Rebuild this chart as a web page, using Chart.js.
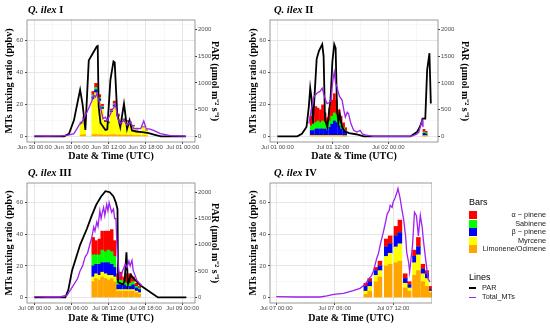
<!DOCTYPE html>
<html>
<head>
<meta charset="utf-8">
<script src="https://cdn.jsdelivr.net/npm/chart.js@4.4.1/dist/chart.umd.min.js"></script>
<style>
  body { margin: 0; background: #fff; }
  #fig { position: relative; width: 550px; height: 328px; overflow: hidden; background: #fff; }
  #fig canvas { position: absolute; }
  .ttl { position: absolute; font: bold 10.5px "Liberation Serif", "Times New Roman", serif; line-height: 14px; white-space: nowrap; color: #000; }
  .lgt { position: absolute; font: 9px "Liberation Sans", Arial, sans-serif; line-height: 12px; color: #000; }
  .lgl { position: absolute; font: 7.3px "Liberation Sans", Arial, sans-serif; line-height: 8px; color: #1a1a1a; white-space: nowrap; }
  .sw { position: absolute; width: 8px; height: 8px; }
  .lk { position: absolute; width: 7px; height: 1.5px; }
</style>
</head>
<body>
<div id="fig">
  <canvas id="p1" width="221" height="163" style="left:0px;top:0px"></canvas>
  <canvas id="p2" width="227" height="163" style="left:244px;top:0px"></canvas>
  <canvas id="p3" width="221" height="162" style="left:0px;top:163px"></canvas>
  <canvas id="p4" width="188" height="162" style="left:244px;top:163px"></canvas>
  <div class="ttl" style="left:28px;top:3px"><i>Q. ilex</i> I</div>
  <div class="ttl" style="left:274px;top:3px"><i>Q. ilex</i> II</div>
  <div class="ttl" style="left:28px;top:166px"><i>Q. ilex</i> III</div>
  <div class="ttl" style="left:274px;top:166px"><i>Q. ilex</i> IV</div>
  <div id="legend"></div>
</div>
<script>
// axis ticks shared by the panels
const yMajor = [0, 20, 40, 60];
const yMinor = [10, 30, 50, 70];
const parTicks = [0, 500, 1000, 1500, 2000];

// bar species, bottom of the stack first
const speciesNames = ["Limonene/Ocimene", "Myrcene", "β − pinene", "Sabinene", "α − pinene"];
const speciesColors = ["#ffa500", "#ffff00", "#0000ff", "#00ff00", "#ff0000"];

// ---- Q. ilex I  (hours from Jun 30 00:00) ----
const xMajorI = [0, 6, 12, 18, 24];
const xMinorI = [3, 9, 15, 21];
const xLabelsI = ["Jun 30 00:00", "Jun 30 06:00", "Jun 30 12:00", "Jun 30 18:00", "Jul 01 00:00"];
const parTimeI = [0, 4.8, 5.6, 6.4, 7.1, 7.4, 7.8, 8.25, 8.8, 9.3, 10.1, 10.25, 10.4, 10.7, 11.5, 11.8, 12.3, 12.8, 13.0, 13.4, 13.9, 14.5, 14.7, 15.0, 15.4, 15.8, 16.5, 17.5, 18.5, 19.5, 20.5, 24.5];
const parI = [0, 0, 50, 300, 700, 870, 600, 120, 1420, 1520, 1680, 1690, 560, 250, 120, 130, 1050, 1400, 1380, 430, 175, 610, 430, 140, 300, 110, 90, 80, 60, 30, 0, 0];
const mtTimeI = [0, 2, 4.2, 5.5, 6.4, 7.2, 7.6, 8.0, 8.5, 9.1, 9.4, 9.6, 9.9, 10.1, 10.4, 10.7, 11.1, 11.5, 11.8, 12.2, 12.6, 12.9, 13.1, 13.5, 13.9, 14.2, 14.5, 15.0, 15.5, 16.1, 16.6, 17.2, 17.7, 18.1, 18.7, 19.3, 20.4, 22.0, 24.5];
const mtI = [0.3, 0.2, 0.3, 0.8, 1.7, 6.9, 8.5, 11, 15, 20.4, 23, 25.6, 24.5, 26.7, 23, 18.3, 11, 12, 10, 13, 16.7, 18, 20.4, 11, 8, 9, 10, 7, 9, 4.8, 5, 4.8, 9.6, 4.8, 4.5, 3.75, 1.7, 0.5, 0.2];
const barTimeI = [7.62, 8.07, 9.52, 9.97, 10.52, 10.97, 11.52, 11.97, 12.52, 12.97, 13.52, 13.97, 14.52, 14.97, 15.52, 15.97, 16.52, 16.97, 17.62, 18.07];
const limI = [0.8, 1, 1, 1.2, 1, 1, 0.8, 0.8, 1, 1, 0.8, 0.8, 0.8, 0.8, 0.8, 0.6, 0.5, 0.5, 0.5, 0.4];
const myrI = [7, 9.5, 22, 26, 21, 16, 8, 7.2, 14, 17.5, 11.5, 7, 9, 8.2, 7.2, 5.6, 3, 2.2, 5, 3.2];
const bpinI = [0.4, 0.5, 1.5, 1.8, 1.2, 1, 0.4, 0.3, 0.6, 1, 0.6, 0.4, 0.4, 0.3, 0.3, 0.3, 0.2, 0.1, 0.2, 0.2];
const sabI = [0.3, 0.4, 1.5, 1.5, 1.2, 0.8, 0.3, 0.3, 0.6, 1, 0.4, 0.3, 0.3, 0.3, 0.3, 0.2, 0.1, 0.1, 0.1, 0.1];
const apinI = [0.5, 0.8, 2, 2.5, 1.6, 1.2, 0.5, 0.4, 0.8, 1.5, 0.7, 0.5, 0.5, 0.4, 0.4, 0.3, 0.2, 0.1, 0.2, 0.1];

// ---- Q. ilex II  (hours from Jul 01 00:00) ----
const xMajorII = [0, 12, 24];
const xMinorII = [6, 18, 30];
const xLabelsII = ["Jul 01 00:00", "Jul 01 12:00", "Jul 02 00:00"];
const parTimeII = [0, 4.3, 5.3, 6.3, 6.8, 7.1, 7.4, 7.7, 8.0, 8.5, 9.0, 9.7, 10.0, 10.3, 10.8, 11.5, 11.9, 12.3, 12.6, 12.9, 13.2, 13.5, 14.0, 14.5, 15.5, 17.0, 18.7, 28.8, 29.3, 30.2, 30.8, 31.1, 31.4, 32.0, 32.4, 32.9, 33.2];
const parII = [0, 0, 50, 175, 550, 900, 700, 245, 700, 1450, 1600, 1720, 1500, 320, 175, 700, 1400, 1720, 1650, 500, 250, 420, 175, 100, 60, 40, 0, 0, 30, 80, 175, 238, 330, 330, 1240, 1555, 615];
const mtTimeII = [6.8, 7.3, 7.9, 8.6, 9.2, 9.7, 10.2, 10.7, 11.2, 11.6, 12.0, 12.3, 12.6, 12.9, 13.2, 13.5, 14.0, 14.4, 14.7, 15.1, 15.4, 15.9, 16.5, 17.2, 17.9, 18.4, 19.0, 20.8, 24, 28.8, 29.5, 30.2, 30.6, 30.9, 31.3, 31.5];
const mtII = [8, 16, 24.6, 27, 28, 30, 24.6, 20.5, 21, 22.6, 35, 40, 33, 31, 27, 24.6, 22.6, 16, 12, 15, 14, 8, 3.8, 2.7, 3.8, 1.5, 1, 0, 0, 0, 0.6, 1.5, 2.7, 5.8, 10, 5.8];
const barTimeII = [7.32, 7.77, 8.32, 8.77, 9.32, 9.77, 10.32, 10.77, 11.32, 11.77, 12.32, 12.77, 13.32, 13.77, 14.32, 14.77, 31.72, 32.17];
const limII = [0.3, 0.3, 0.3, 0.3, 0.3, 0.3, 0.3, 0.3, 0.3, 0.3, 0.3, 0.3, 0.3, 0.3, 0.2, 0.2, 0.2, 0.2];
const myrII = [0.3, 0.3, 0.3, 0.3, 0.3, 0.3, 0.3, 0.3, 0.3, 0.3, 0.3, 0.3, 0.3, 0.3, 0.2, 0.2, 0.2, 0.2];
const bpinII = [3, 3, 4, 4, 4, 4, 4, 3, 5, 7, 9, 8, 6, 4, 3, 2, 1.5, 1];
const sabII = [3, 4, 4, 5, 4, 5, 4, 3, 4, 5, 5, 5, 4, 3, 2, 1, 1, 0.8];
const apinII = [6, 9, 10, 8, 8, 10, 6, 5, 8, 10, 12, 9, 6, 5, 3, 2, 1.5, 1];

// ---- Q. ilex III  (hours from Jul 08 00:00) ----
const xMajorIII = [0, 6, 12, 18, 24];
const xMinorIII = [3, 9, 15, 21];
const xLabelsIII = ["Jul 08 00:00", "Jul 08 06:00", "Jul 08 12:00", "Jul 08 18:00", "Jul 09 00:00"];
const parTimeIII = [0, 5.0, 5.5, 6.1, 7.4, 8.5, 9.3, 10.0, 10.8, 11.5, 12.2, 12.8, 13.2, 13.45, 13.55, 14.3, 14.6, 14.9, 15.15, 15.6, 16.1, 17.2, 20.0, 24.6];
const parIII = [0, 0, 150, 514, 1000, 1306, 1560, 1760, 1920, 2020, 2000, 1920, 1800, 1680, 290, 250, 300, 860, 250, 430, 360, 227, 0, 0];
const mtTimeIII = [0, 2, 4.1, 5.3, 6.3, 7.0, 7.4, 7.8, 8.2, 8.6, 9.0, 9.3, 9.6, 9.8, 10.1, 10.3, 10.6, 10.8, 11.0, 11.2, 11.4, 11.7, 11.9, 12.1, 12.3, 12.5, 12.8, 13.0, 13.2, 13.35, 13.5, 13.8, 14.1, 14.4, 14.7, 15.0, 15.3, 15.5, 15.8, 16.0, 16.3, 16.6, 17.0, 17.4];
const mtIII = [0.5, 0.3, 0.3, 1.5, 7.6, 12, 17, 20, 25.6, 28, 34, 38, 44.6, 42, 47.8, 45, 55, 50, 54, 57, 52, 59, 55, 60, 57, 54, 56, 50, 50, 35, 23, 13, 15, 18, 21, 19, 23, 20, 23.5, 17, 14, 10.8, 9, 7.6];
const barTimeIII = [9.52, 9.97, 10.52, 10.97, 11.52, 11.97, 12.52, 12.97, 13.52, 13.97, 14.52, 14.97, 15.52, 15.97, 16.52, 16.97];
const limIII = [10, 12, 11, 13, 12, 11, 12, 10, 4, 4, 4, 4, 4, 4, 3, 2];
const myrIII = [3, 3, 3, 3, 3, 3, 2, 3, 1, 1, 1, 1, 1, 1, 1, 1];
const bpinIII = [7, 6, 7, 6, 7, 8, 7, 6, 3, 3, 3, 2, 2, 3, 2, 2];
const sabIII = [7, 6, 6, 8, 7, 8, 8, 7, 3, 3, 2, 2, 2, 2, 1, 1];
const apinIII = [11, 9, 10, 12, 13, 12, 14, 10, 4, 5, 3, 6, 6, 3, 2, 1];

// ---- Q. ilex IV  (hours from Jul 07 00:00) ----
const xMajorIV = [0, 6, 12];
const xMinorIV = [3, 9, 15];
const xLabelsIV = ["Jul 07 00:00", "Jul 07 06:00", "Jul 07 12:00"];
const mtTimeIV = [0, 2, 4.5, 5.2, 5.9, 6.9, 7.9, 8.6, 9.1, 9.5, 9.8, 10.0, 10.3, 10.5, 10.7, 11.0, 11.2, 11.4, 11.6, 11.7, 11.9, 12.0, 12.2, 12.4, 12.5, 12.7, 12.9, 13.1, 13.3, 13.4, 13.6, 13.7, 13.85, 14.0, 14.2, 14.4, 14.6, 14.8, 15.0, 15.1, 15.35, 15.6, 15.8];
const mtIV = [0.5, 0.3, 0.3, 1.0, 1.9, 2.6, 4.3, 5.8, 8.2, 11.8, 14, 17, 24.4, 28, 34, 41.4, 47, 53, 55, 58.3, 57, 60.3, 63, 66.6, 69, 63.5, 56, 48.8, 38, 28.6, 22, 16, 25, 33, 54, 51.8, 39, 52, 44, 37, 24, 11.8, 9.7];
const barTimeIV = [9.2, 9.6, 10.25, 10.65, 11.3, 11.7, 12.3, 12.7, 13.25, 13.65, 14.2, 14.6, 15.05, 15.45, 15.85];
const limIV = [2, 4, 10, 13, 20, 21, 22, 23, 6, 4, 14, 17, 10, 7, 3];
const myrIV = [2, 3, 4, 4, 6, 7, 10, 11, 3, 2, 8, 10, 5, 5, 1];
const bpinIV = [3, 3, 3, 3, 6, 6, 7, 7, 3, 2, 4, 5, 3, 3, 1];
const sabIV = [0, 0, 0, 0, 0, 0, 0, 0, 0, 0, 0, 0, 0, 0, 0];
const apinIV = [2, 2, 2, 3, 5, 5, 6, 8, 3, 2, 4, 6, 3, 2, 2];

const tickFont = { family: "Liberation Sans", size: 6 };
const axisTitleFont = { family: "Liberation Serif", size: 10, weight: "bold" };
const gridMajor = "#e3e3e3";
const gridMinor = "#f1f1f1";

// full box round the plotting area, like the ggplot panel border
const panelBorder = {
  id: "panelBorder",
  afterDatasetsDraw(chart) {
    const { ctx, chartArea: a } = chart;
    ctx.save();
    ctx.strokeStyle = "#808080";
    ctx.lineWidth = 0.8;
    ctx.strokeRect(a.left, a.top, a.right - a.left, a.bottom - a.top);
    ctx.restore();
  },
};

function drawPanel(id, p) {
  const xTicks = p.xMajor.concat(p.xMinor).sort((a, b) => a - b);
  const yTicks = yMajor.concat(yMinor).sort((a, b) => a - b);

  const datasets = [
    {
      type: "line",
      label: "Total_MTs",
      yAxisID: "y",
      stack: "mt",
      order: 0,
      data: p.mtTime.map((t, i) => ({ x: t, y: p.mt[i] })),
      borderColor: "#a020f0",
      borderWidth: 1.3,
      pointRadius: 0,
      tension: 0,
    },
  ];
  if (p.par) {
    datasets.push({
      type: "line",
      label: "PAR",
      yAxisID: "y2",
      order: 1,
      data: p.parTime.map((t, i) => ({ x: t, y: p.par[i] })),
      borderColor: "#000000",
      borderWidth: 1.8,
      pointRadius: 0,
      tension: 0,
    });
  }
  p.bars.forEach((vals, k) => {
    datasets.push({
      type: "bar",
      label: speciesNames[k],
      yAxisID: "y",
      stack: "bars",
      order: 2,
      data: p.barTime.map((t, i) => ({ x: t, y: vals[i] })),
      backgroundColor: speciesColors[k],
      borderWidth: 0,
      barPercentage: 1,
      categoryPercentage: 1,
    });
  });

  const scales = {
    x: {
      type: "linear",
      min: p.xMin,
      max: p.xMax,
      stacked: true,
      offset: false,
      afterBuildTicks: (s) => { s.ticks = xTicks.map((v) => ({ value: v })); },
      afterFit: (s) => { s.height = p.xH; },
      ticks: {
        autoSkip: false,
        maxRotation: 0,
        minRotation: 0,
        padding: 0,
        color: "#4d4d4d",
        font: tickFont,
        callback: (v) => {
          const i = p.xMajor.indexOf(v);
          return i < 0 ? "" : p.xLabels[i];
        },
      },
      grid: {
        offset: false,
        color: (c) => (p.xMajor.includes(c.tick.value) ? gridMajor : gridMinor),
        lineWidth: (c) => (p.xMajor.includes(c.tick.value) ? 0.9 : 0.5),
        tickLength: 2,
        tickColor: (c) => (p.xMajor.includes(c.tick.value) ? "#333333" : "rgba(0,0,0,0)"),
      },
      border: { display: false },
      title: { display: true, text: "Date & Time (UTC)", color: "#000", font: axisTitleFont, padding: { top: 0, bottom: 1 } },
    },
    y: {
      type: "linear",
      position: "left",
      min: -3.5,
      max: 72.5,
      stacked: true,
      afterBuildTicks: (s) => { s.ticks = yTicks.map((v) => ({ value: v })); },
      afterFit: (s) => { s.width = p.yW; },
      ticks: {
        padding: 2,
        color: "#4d4d4d",
        font: tickFont,
        callback: (v) => (yMajor.includes(v) ? String(v) : ""),
      },
      grid: {
        color: (c) => (yMajor.includes(c.tick.value) ? gridMajor : gridMinor),
        lineWidth: (c) => (yMajor.includes(c.tick.value) ? 0.9 : 0.5),
        tickLength: 2,
        tickColor: (c) => (yMajor.includes(c.tick.value) ? "#333333" : "rgba(0,0,0,0)"),
      },
      border: { display: false },
      title: { display: true, text: "MTs mixing ratio (ppbv)", color: "#000", font: axisTitleFont, padding: { top: 3, bottom: 0 } },
    },
  };
  if (p.par) {
    scales.y2 = {
      type: "linear",
      position: "right",
      min: -105,
      max: 2175,
      afterBuildTicks: (s) => { s.ticks = parTicks.map((v) => ({ value: v })); },
      afterFit: (s) => { s.width = p.y2W; },
      ticks: { padding: 1, color: "#4d4d4d", font: tickFont, callback: (v) => String(v) },
      grid: { drawOnChartArea: false, tickLength: 2, tickColor: "#333333" },
      border: { display: false },
      title: { display: true, text: "PAR (μmol m⁻² s⁻¹)", color: "#000", font: axisTitleFont, padding: { top: 0, bottom: 0 } },
    };
  }

  return new Chart(document.getElementById(id), {
    type: "bar",
    data: { datasets },
    options: {
      responsive: false,
      animation: false,
      layout: { padding: { top: 20, left: 0, right: 0, bottom: 0 } },
      plugins: { legend: { display: false }, tooltip: { enabled: false } },
      scales,
    },
    plugins: [panelBorder],
  });
}

drawPanel("p1", {
  xMin: -1.2, xMax: 26.0, xMajor: xMajorI, xMinor: xMinorI, xLabels: xLabelsI,
  parTime: parTimeI, par: parI, mtTime: mtTimeI, mt: mtI,
  barTime: barTimeI, bars: [limI, myrI, bpinI, sabI, apinI],
  yW: 27, y2W: 26, xH: 21,
});
drawPanel("p2", {
  xMin: -1.6, xMax: 34.75, xMajor: xMajorII, xMinor: xMinorII, xLabels: xLabelsII,
  parTime: parTimeII, par: parII, mtTime: mtTimeII, mt: mtII,
  barTime: barTimeII, bars: [limII, myrII, bpinII, sabII, apinII],
  yW: 26, y2W: 33, xH: 21,
});
drawPanel("p3", {
  xMin: -1.2, xMax: 26.0, xMajor: xMajorIII, xMinor: xMinorIII, xLabels: xLabelsIII,
  parTime: parTimeIII, par: parIII, mtTime: mtTimeIII, mt: mtIII,
  barTime: barTimeIII, bars: [limIII, myrIII, bpinIII, sabIII, apinIII],
  yW: 27, y2W: 26, xH: 22,
});
drawPanel("p4", {
  xMin: -0.65, xMax: 16.0, xMajor: xMajorIV, xMinor: xMinorIV, xLabels: xLabelsIV,
  mtTime: mtTimeIV, mt: mtIV,
  barTime: barTimeIV, bars: [limIV, myrIV, bpinIV, sabIV, apinIV],
  yW: 26, xH: 22,
});

// Legend (Bars, then Lines)
const legend = document.getElementById("legend");
let html = '<div class="lgt" style="left:469px;top:196px">Bars</div>';
for (let r = 0; r < speciesNames.length; r++) {
  const k = speciesNames.length - 1 - r; // top row is the top of the stack
  const top = 211 + r * 8.5;
  html += '<div class="sw" style="left:469px;top:' + top + 'px;background:' + speciesColors[k] + '"></div>';
  html += '<div class="lgl" style="right:4px;top:' + top + 'px;text-align:right">' + speciesNames[k] + "</div>";
}
html += '<div class="lgt" style="left:469px;top:271px">Lines</div>';
html += '<div class="lk" style="left:469px;top:287px;background:#000"></div>';
html += '<div class="lgl" style="left:482px;top:284px">PAR</div>';
html += '<div class="lk" style="left:469px;top:296.5px;background:#a020f0"></div>';
html += '<div class="lgl" style="left:482px;top:293px">Total_MTs</div>';
legend.innerHTML = html;
</script>
</body>
</html>
